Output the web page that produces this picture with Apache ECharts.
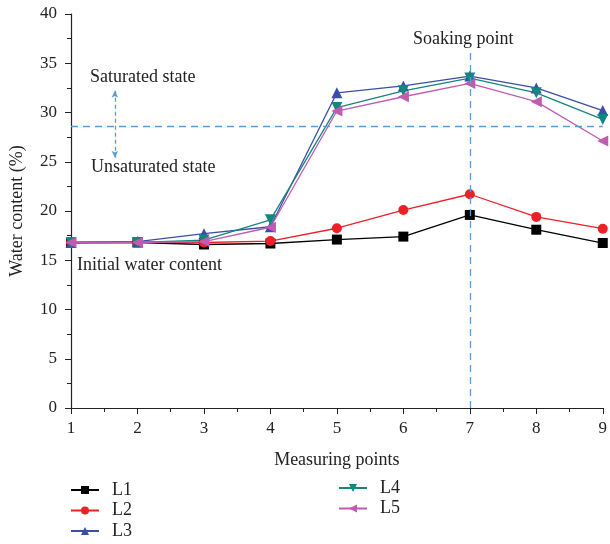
<!DOCTYPE html>
<html><head><meta charset="utf-8">
<script src="https://cdn.jsdelivr.net/npm/echarts@6/dist/echarts.min.js"></script>
<style>html,body{margin:0;padding:0;background:#fff}#c{width:610px;height:544px}</style>
</head><body><div id="c"></div>
<script>
var points = [1,2,3,4,5,6,7,8,9];
var L1 = [16.8,16.8,16.6,16.7,17.1,17.4,19.6,18.1,16.75];
var L2 = [16.8,16.85,16.8,16.95,18.25,20.1,21.7,19.4,18.2];
var L3 = [16.8,16.9,17.7,18.4,32.0,32.7,33.7,32.5,30.2];
var L4 = [16.75,16.8,17.05,19.1,30.5,32.2,33.5,32.0,29.3];
var L5 = [16.8,16.8,16.9,18.35,30.15,31.6,32.95,31.1,27.1];
var saturationLevel = 28.6;
var soakingPoint = 7;
var font = '"Liberation Serif", "DejaVu Serif", serif';

function pairs(v){ return points.map(function(x,i){ return [x, v[i]]; }); }
function mk(name, data, color, symbol, size, rot){
  return {name:name, type:'line', data:pairs(data), symbol:symbol, symbolSize:size, symbolRotate:rot||0,
    lineStyle:{color:color,width:1.3}, itemStyle:{color:color}, color:color};
}
var series = [
  mk('L1', L1, '#000000', 'rect', 10),
  mk('L2', L2, '#ee1f26', 'circle', 10),
  mk('L3', L3, '#3b4ea6', 'triangle', 11),
  mk('L4', L4, '#11877d', 'triangle', 11, 180),
  mk('L5', L5, '#c05bb0', 'triangle', 11, 90)
];
series.push({type:'line', data:[], silent:true,
  markLine:{silent:true, symbol:['none','none'], label:{show:false},
    lineStyle:{color:'#5b9bd5', type:[7,5], width:1.3},
    data:[
      [{coord:[1,saturationLevel]},{coord:[9,saturationLevel]}],
      [{coord:[soakingPoint,0]},{coord:[soakingPoint,36.5]}]
    ]}
});
series.push({type:'line', data:[], silent:true,
  markLine:{silent:true, symbol:['arrow','arrow'], symbolSize:[5,7], label:{show:false},
    lineStyle:{color:'#5b9bd5', type:[4,3], width:1.3},
    data:[[{coord:[1.66,32.2]},{coord:[1.66,25.4]}]]}
});

var txt = {fontSize:18, color:'#222', fontFamily:font};
var legendText = {fontSize:18, color:'#222', fontFamily:font, padding:[0,0,0,8]};
var chart = echarts.init(document.getElementById('c'));
chart.setOption({
  animation:false,
  textStyle:{fontFamily:font},
  grid:{left:71, right:3, top:14, bottom:136},
  xAxis:{type:'value', min:1, max:9, interval:1, name:'Measuring points', nameLocation:'middle', nameGap:43,
    nameTextStyle:txt,
    axisLine:{onZero:false, lineStyle:{color:'#222', width:1.2}},
    axisTick:{length:6, lineStyle:{color:'#222'}},
    minorTick:{show:true, splitNumber:2, length:4, lineStyle:{color:'#222'}},
    splitLine:{show:false},
    axisLabel:{fontSize:17, color:'#222', margin:12, fontFamily:font}},
  yAxis:{type:'value', min:0, max:40, interval:5, name:'Water content (%)', nameLocation:'middle', nameGap:45,
    nameTextStyle:txt,
    axisLine:{show:true, lineStyle:{color:'#222', width:1.2}},
    axisTick:{show:true, length:6, lineStyle:{color:'#222'}},
    minorTick:{show:true, splitNumber:2, length:4, lineStyle:{color:'#222'}},
    splitLine:{show:false},
    axisLabel:{fontSize:17, color:'#222', margin:14, fontFamily:font}},
  legend:[
    {data:['L1','L2','L3'], orient:'vertical', left:70, top:481, itemGap:2.5, itemWidth:28, itemHeight:10, padding:0,
      textStyle:legendText},
    {data:['L4','L5'], orient:'vertical', left:338, top:479, itemGap:2.5, itemWidth:28, itemHeight:10, padding:0,
      textStyle:legendText}
  ],
  graphic:[
    {type:'text', left:90, top:68, style:{text:'Saturated state', fontSize:18, fill:'#222', fontFamily:font}},
    {type:'text', left:91, top:158, style:{text:'Unsaturated state', fontSize:18, fill:'#222', fontFamily:font}},
    {type:'text', left:77, top:256, style:{text:'Initial water content', fontSize:18, fill:'#222', fontFamily:font}},
    {type:'text', left:413, top:30, style:{text:'Soaking point', fontSize:18, fill:'#222', fontFamily:font}}
  ],
  series:series
});
</script></body></html>
